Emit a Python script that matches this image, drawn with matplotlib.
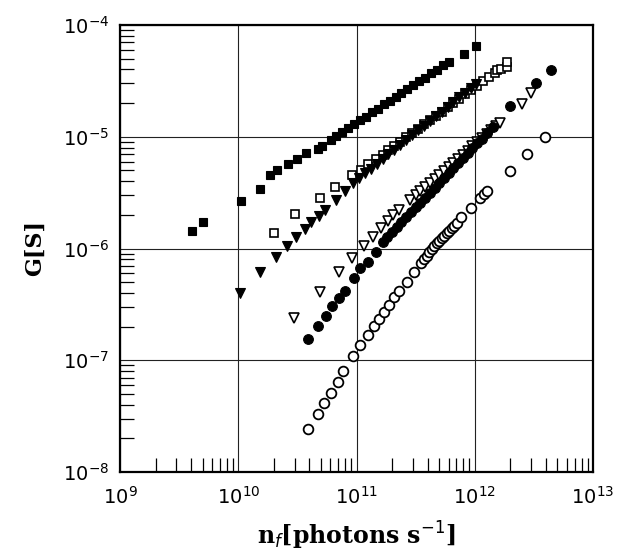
import numpy as np
import matplotlib
matplotlib.use("Agg")
import matplotlib.pyplot as plt
from matplotlib.ticker import LogLocator, NullFormatter, FixedLocator

# ---------------- data ----------------
# filled squares
sqf_x = [4.04e9, 5.06e9, 1.05e10, 1.53e10, 1.85e10, 2.13e10, 2.65e10, 3.16e10, 3.72e10,
         4.75e10, 5.14e10, 6.03e10, 6.76e10, 7.59e10, 8.51e10, 9.55e10, 1.07e11, 1.20e11,
         1.35e11, 1.51e11, 1.70e11, 1.91e11, 2.14e11, 2.40e11, 2.69e11, 3.02e11, 3.39e11,
         3.80e11, 4.27e11, 4.79e11, 5.37e11, 6.03e11, 8.13e11, 1.02e12]
sqf_y = [1.44e-6, 1.71e-6, 2.64e-6, 3.43e-6, 4.52e-6, 5.01e-6, 5.67e-6, 6.32e-6, 7.10e-6,
         7.77e-6, 8.30e-6, 9.33e-6, 1.02e-5, 1.10e-5, 1.20e-5, 1.29e-5, 1.41e-5, 1.51e-5,
         1.66e-5, 1.78e-5, 1.95e-5, 2.09e-5, 2.29e-5, 2.45e-5, 2.69e-5, 2.88e-5, 3.16e-5,
         3.39e-5, 3.72e-5, 3.98e-5, 4.37e-5, 4.68e-5, 5.50e-5, 6.46e-5]

# open squares
sqo_x = [2.02e10, 3.00e10, 4.89e10, 6.55e10, 9.20e10, 1.09e11, 1.25e11, 1.46e11, 1.66e11,
         1.86e11, 2.09e11, 2.34e11, 2.63e11, 2.95e11, 3.31e11, 3.72e11, 4.17e11, 4.68e11,
         5.25e11, 5.89e11, 6.61e11, 7.41e11, 8.32e11, 9.33e11, 1.05e12, 1.17e12, 1.32e12,
         1.48e12, 1.53e12, 1.66e12, 1.86e12, 1.86e12]
sqo_y = [1.37e-6, 2.02e-6, 2.83e-6, 3.53e-6, 4.52e-6, 5.04e-6, 5.66e-6, 6.28e-6, 6.92e-6,
         7.57e-6, 8.26e-6, 9.03e-6, 9.87e-6, 1.08e-5, 1.18e-5, 1.29e-5, 1.41e-5, 1.54e-5,
         1.68e-5, 1.84e-5, 2.00e-5, 2.19e-5, 2.39e-5, 2.62e-5, 2.86e-5, 3.13e-5, 3.41e-5,
         3.73e-5, 3.95e-5, 4.07e-5, 4.20e-5, 4.70e-5]

# filled down-triangles
trf_x = [1.04e10, 1.53e10, 2.10e10, 2.58e10, 3.08e10, 3.68e10, 4.16e10, 4.78e10, 5.42e10,
         6.75e10, 8.00e10, 9.33e10, 1.05e11, 1.17e11, 1.32e11, 1.48e11, 1.66e11, 1.86e11,
         2.09e11, 2.34e11, 2.63e11, 2.95e11, 3.31e11, 3.72e11, 4.17e11, 4.68e11, 5.25e11,
         5.89e11, 6.61e11, 7.41e11, 8.32e11, 9.33e11, 1.02e12]
trf_y = [4.03e-7, 6.20e-7, 8.40e-7, 1.05e-6, 1.27e-6, 1.50e-6, 1.73e-6, 1.97e-6, 2.23e-6,
         2.69e-6, 3.24e-6, 3.85e-6, 4.26e-6, 4.69e-6, 5.18e-6, 5.71e-6, 6.30e-6, 6.95e-6,
         7.66e-6, 8.45e-6, 9.33e-6, 1.03e-5, 1.14e-5, 1.25e-5, 1.38e-5, 1.52e-5, 1.68e-5,
         1.85e-5, 2.04e-5, 2.25e-5, 2.48e-5, 2.74e-5, 2.96e-5]

# open down-triangles
tro_x = [2.98e10, 4.94e10, 7.08e10, 9.12e10, 1.15e11, 1.38e11, 1.61e11, 1.83e11, 2.04e11,
         2.30e11, 2.83e11, 3.16e11, 3.47e11, 3.80e11, 4.17e11, 4.57e11, 5.01e11, 5.50e11,
         6.03e11, 6.61e11, 7.24e11, 7.94e11, 8.71e11, 9.55e11, 1.05e12, 1.15e12, 1.26e12,
         1.38e12, 1.51e12, 1.64e12, 2.49e12, 2.99e12]
tro_y = [2.39e-7, 4.09e-7, 6.19e-7, 8.30e-7, 1.05e-6, 1.27e-6, 1.52e-6, 1.76e-6, 2.00e-6,
         2.21e-6, 2.72e-6, 3.00e-6, 3.27e-6, 3.55e-6, 3.85e-6, 4.20e-6, 4.56e-6, 4.95e-6,
         5.40e-6, 5.86e-6, 6.37e-6, 6.92e-6, 7.53e-6, 8.18e-6, 8.91e-6, 9.68e-6, 1.05e-5,
         1.15e-5, 1.24e-5, 1.34e-5, 1.95e-5, 2.47e-5]

# filled circles
cif_x = [3.86e10, 4.70e10, 5.52e10, 6.21e10, 7.06e10, 7.94e10, 9.46e10, 1.08e11, 1.26e11,
         1.45e11, 1.66e11, 1.82e11, 2.00e11, 2.19e11, 2.40e11, 2.63e11, 2.88e11, 3.16e11,
         3.47e11, 3.80e11, 4.17e11, 4.57e11, 5.01e11, 5.50e11, 6.03e11, 6.61e11, 7.24e11,
         7.94e11, 8.71e11, 9.55e11, 1.05e12, 1.15e12, 1.26e12, 1.43e12, 2.00e12, 3.30e12,
         4.40e12]
cif_y = [1.54e-7, 2.03e-7, 2.49e-7, 3.03e-7, 3.62e-7, 4.18e-7, 5.44e-7, 6.71e-7, 7.54e-7,
         9.26e-7, 1.14e-6, 1.26e-6, 1.40e-6, 1.55e-6, 1.71e-6, 1.90e-6, 2.10e-6, 2.33e-6,
         2.58e-6, 2.85e-6, 3.16e-6, 3.49e-6, 3.86e-6, 4.28e-6, 4.73e-6, 5.24e-6, 5.81e-6,
         6.43e-6, 7.11e-6, 7.87e-6, 8.71e-6, 9.64e-6, 1.07e-5, 1.22e-5, 1.88e-5, 3.00e-5,
         3.95e-5]

# open circles
cio_x = [3.86e10, 4.68e10, 5.35e10, 6.08e10, 6.93e10, 7.76e10, 9.40e10, 1.07e11, 1.24e11,
         1.40e11, 1.55e11, 1.71e11, 1.87e11, 2.07e11, 2.28e11, 2.66e11, 3.08e11, 3.48e11,
         3.70e11, 3.93e11, 4.10e11, 4.33e11, 4.54e11, 4.76e11, 5.00e11, 5.25e11, 5.50e11,
         5.79e11, 6.04e11, 6.38e11, 6.65e11, 7.03e11, 7.66e11, 9.29e11, 1.11e12, 1.20e12,
         1.26e12, 1.99e12, 2.75e12, 3.94e12]
cio_y = [2.44e-8, 3.27e-8, 4.11e-8, 5.09e-8, 6.43e-8, 8.09e-8, 1.09e-7, 1.37e-7, 1.68e-7,
         2.01e-7, 2.35e-7, 2.72e-7, 3.12e-7, 3.66e-7, 4.15e-7, 5.05e-7, 6.20e-7, 7.44e-7,
         8.10e-7, 8.60e-7, 9.30e-7, 1.00e-6, 1.06e-6, 1.11e-6, 1.17e-6, 1.24e-6, 1.30e-6,
         1.37e-6, 1.44e-6, 1.52e-6, 1.60e-6, 1.68e-6, 1.90e-6, 2.32e-6, 2.81e-6, 3.07e-6,
         3.27e-6, 4.94e-6, 6.97e-6, 9.85e-6]

x_ticks = [1e9, 1e10, 1e11, 1e12, 1e13]
x_ticklabels = [r"$\mathregular{10^{9}}$", r"$\mathregular{10^{10}}$", r"$\mathregular{10^{11}}$",
                r"$\mathregular{10^{12}}$", r"$\mathregular{10^{13}}$"]
y_ticks = [1e-8, 1e-7, 1e-6, 1e-5, 1e-4]
y_ticklabels = [r"$\mathregular{10^{-8}}$", r"$\mathregular{10^{-7}}$", r"$\mathregular{10^{-6}}$",
                r"$\mathregular{10^{-5}}$", r"$\mathregular{10^{-4}}$"]
x_label = r"n$_{f}$[photons s$^{-1}$]"
y_label = "G[S]"

# ---------------- figure ----------------
W, H = 623, 552
fig = plt.figure(figsize=(W / 100, H / 100), dpi=100)
ax = fig.add_axes([120 / W, 1 - 472 / H, (593 - 120) / W, (472 - 25) / H])
ax.set_xscale("log")
ax.set_yscale("log")
ax.set_xlim(1e9, 1e13)
ax.set_ylim(1e-8, 1e-4)

k = "black"
ax.plot(sqf_x, sqf_y, "s", ms=5.8, mfc=k, mec=k, mew=0.8, ls="none", zorder=3)
ax.plot(sqo_x, sqo_y, "s", ms=5.8, mfc="white", mec=k, mew=1.2, ls="none", zorder=3)
ax.plot(trf_x, trf_y, "v", ms=7.3, mfc=k, mec=k, mew=0.8, ls="none", zorder=3)
ax.plot(tro_x, tro_y, "v", ms=7.3, mfc="white", mec=k, mew=1.2, ls="none", zorder=3)
ax.plot(cif_x, cif_y, "o", ms=7, mfc=k, mec=k, mew=0.8, ls="none", zorder=3)
ax.plot(cio_x, cio_y, "o", ms=7, mfc="white", mec=k, mew=1.3, ls="none", zorder=3)

ax.grid(True, which="major", color="#222222", lw=0.8)
ax.set_axisbelow(True)

ax.xaxis.set_major_locator(FixedLocator(x_ticks))
ax.yaxis.set_major_locator(FixedLocator(y_ticks))
ax.set_xticklabels(x_ticklabels)
ax.set_yticklabels(y_ticklabels)
ax.xaxis.set_minor_locator(LogLocator(base=10, subs=np.arange(2, 10), numticks=20))
ax.yaxis.set_minor_locator(LogLocator(base=10, subs=np.arange(2, 10), numticks=20))
ax.xaxis.set_minor_formatter(NullFormatter())
ax.yaxis.set_minor_formatter(NullFormatter())
ax.tick_params(which="major", length=0, labelsize=14, pad=8)
ax.tick_params(which="minor", direction="in", length=10, width=0.9,
               top=False, right=False)
ax.tick_params(axis="x", which="major", pad=10)

for s in ax.spines.values():
    s.set_linewidth(1.6)

ax.set_xlabel(x_label, fontsize=17, fontweight="bold", family="DejaVu Serif", labelpad=9)
ax.set_ylabel(y_label, fontsize=16, fontweight="bold", family="DejaVu Serif", labelpad=12)

fig.savefig("out.png", dpi=100)
